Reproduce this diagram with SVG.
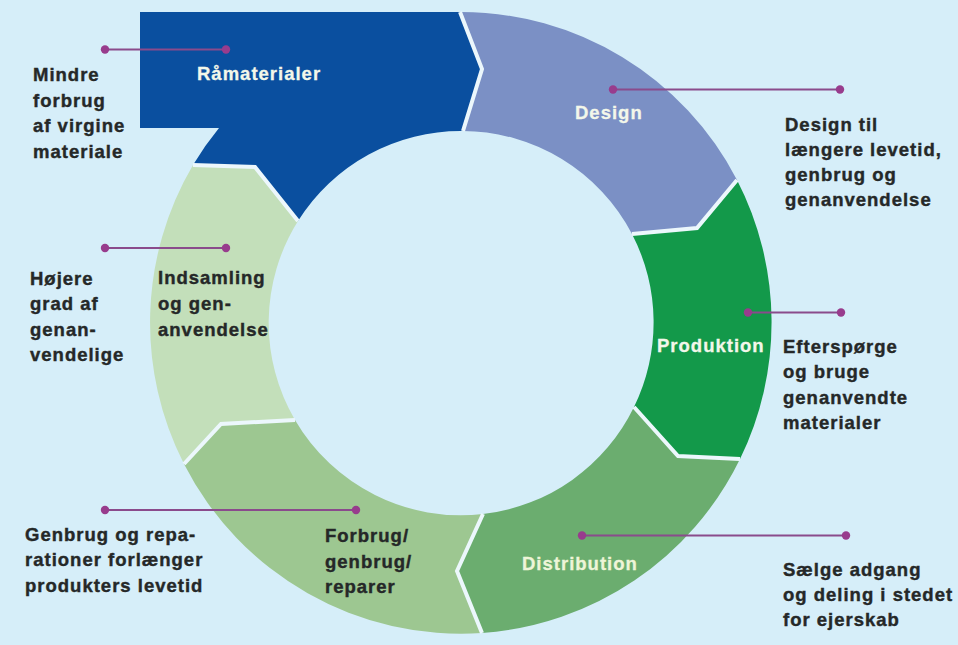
<svg xmlns="http://www.w3.org/2000/svg" width="958" height="645" viewBox="0 0 958 645">
<defs>
<style>
text{font-family:"Liberation Sans",Arial,Helvetica,sans-serif;font-weight:bold;font-size:18.5px;letter-spacing:1px}
.lt{fill:#f3f7ea;stroke:#f3f7ea;stroke-width:0.3}
.dk{fill:#252828;stroke:#252828;stroke-width:0.4}
.gap{fill:none;stroke:#ecf7fc;stroke-width:4;stroke-linejoin:miter}
.cl{stroke:#8a4b8c;stroke-width:2.2;fill:none}
.dot{fill:#983c8d}
</style>
</defs>
<rect width="958" height="645" fill="#d6eef9"/>
<g id="ramaterialer">
<path d="M140,12 L460,12 L482,69 L463,131 A192,192 0 0 0 298,221 L255,167 L193,165 A311,311 0 0 1 219,128 L140,128 Z" fill="#0a4f9f"/>
<text class="lt" x="197" y="80">Råmaterialer</text>
</g>
<g id="design">
<path d="M460,12 A311,311 0 0 1 737,180 L697,228 L632,234 A192,192 0 0 0 463,131 L482,69 Z" fill="#7b90c5"/>
<text class="lt" x="575" y="119">Design</text>
</g>
<g id="produktion">
<path d="M737,180 A311,311 0 0 1 740,459 L678,456 L634,407 A192,192 0 0 0 632,234 L697,228 Z" fill="#13994a"/>
<text class="lt" x="657" y="352">Produktion</text>
</g>
<g id="distribution">
<path d="M740,459 A311,311 0 0 1 482,633 L457,571 L483,514 A192,192 0 0 0 634,407 L678,456 Z" fill="#6bad6f"/>
<text class="lt" x="522" y="570" style="fill:#eef5d8;stroke:#eef5d8">Distribution</text>
</g>
<g id="forbrug">
<path d="M482,633 A311,311 0 0 1 184,464 L221,424 L295,420 A192,192 0 0 0 483,514 L457,571 Z" fill="#9dc791"/>
<text class="dk" x="325" y="542">Forbrug/</text>
<text class="dk" x="325" y="568">genbrug/</text>
<text class="dk" x="325" y="593">reparer</text>
</g>
<g id="indsamling">
<path d="M184,464 A311,311 0 0 1 193,165 L255,167 L298,221 A192,192 0 0 0 295,420 L221,424 Z" fill="#c3dfba"/>
<text class="dk" x="158" y="284">Indsamling</text>
<text class="dk" x="158" y="310">og gen-</text>
<text class="dk" x="158" y="336">anvendelse</text>
</g>
<g id="gaps">
<polyline class="gap" points="460,12 482,69 463,131"/>
<polyline class="gap" points="737,180 697,228 632,234"/>
<polyline class="gap" points="740,459 678,456 634,407"/>
<polyline class="gap" points="482,633 457,571 483,514"/>
<polyline class="gap" points="184,464 221,424 295,420"/>
<polyline class="gap" points="193,165 255,167 298,221"/>
</g>
<g id="connectors">
<line class="cl" x1="105" y1="49.5" x2="226" y2="49.5"/>
<circle class="dot" cx="105" cy="49.5" r="4.2"/>
<circle class="dot" cx="226" cy="49.5" r="4.2"/>
<line class="cl" x1="613" y1="89.5" x2="840" y2="89.5"/>
<circle class="dot" cx="613" cy="89.5" r="4.2"/>
<circle class="dot" cx="840" cy="89.5" r="4.2"/>
<line class="cl" x1="748" y1="312.5" x2="841" y2="312.5"/>
<circle class="dot" cx="748" cy="312.5" r="4.2"/>
<circle class="dot" cx="841" cy="312.5" r="4.2"/>
<line class="cl" x1="582" y1="535.5" x2="846" y2="535.5"/>
<circle class="dot" cx="582" cy="535.5" r="4.2"/>
<circle class="dot" cx="846" cy="535.5" r="4.2"/>
<line class="cl" x1="105" y1="510" x2="356" y2="510"/>
<circle class="dot" cx="105" cy="510" r="4.2"/>
<circle class="dot" cx="356" cy="510" r="4.2"/>
<line class="cl" x1="105" y1="248" x2="226" y2="248"/>
<circle class="dot" cx="105" cy="248" r="4.2"/>
<circle class="dot" cx="226" cy="248" r="4.2"/>
</g>
<g id="notes">
<text class="dk" x="33" y="81">Mindre</text>
<text class="dk" x="33" y="107">forbrug</text>
<text class="dk" x="33" y="132">af virgine</text>
<text class="dk" x="33" y="158">materiale</text>
<text class="dk" x="785" y="131">Design til</text>
<text class="dk" x="785" y="156">længere levetid,</text>
<text class="dk" x="785" y="181">genbrug og</text>
<text class="dk" x="785" y="206">genanvendelse</text>
<text class="dk" x="783" y="353">Efterspørge</text>
<text class="dk" x="783" y="378">og bruge</text>
<text class="dk" x="783" y="404">genanvendte</text>
<text class="dk" x="783" y="429">materialer</text>
<text class="dk" x="783" y="576">Sælge adgang</text>
<text class="dk" x="783" y="601">og deling i stedet</text>
<text class="dk" x="783" y="626">for ejerskab</text>
<text class="dk" x="25" y="541">Genbrug og repa-</text>
<text class="dk" x="25" y="566">rationer forlænger</text>
<text class="dk" x="25" y="592">produkters levetid</text>
<text class="dk" x="30" y="285">Højere</text>
<text class="dk" x="30" y="310">grad af</text>
<text class="dk" x="30" y="336">genan-</text>
<text class="dk" x="30" y="361">vendelige</text>
</g>
</svg>
